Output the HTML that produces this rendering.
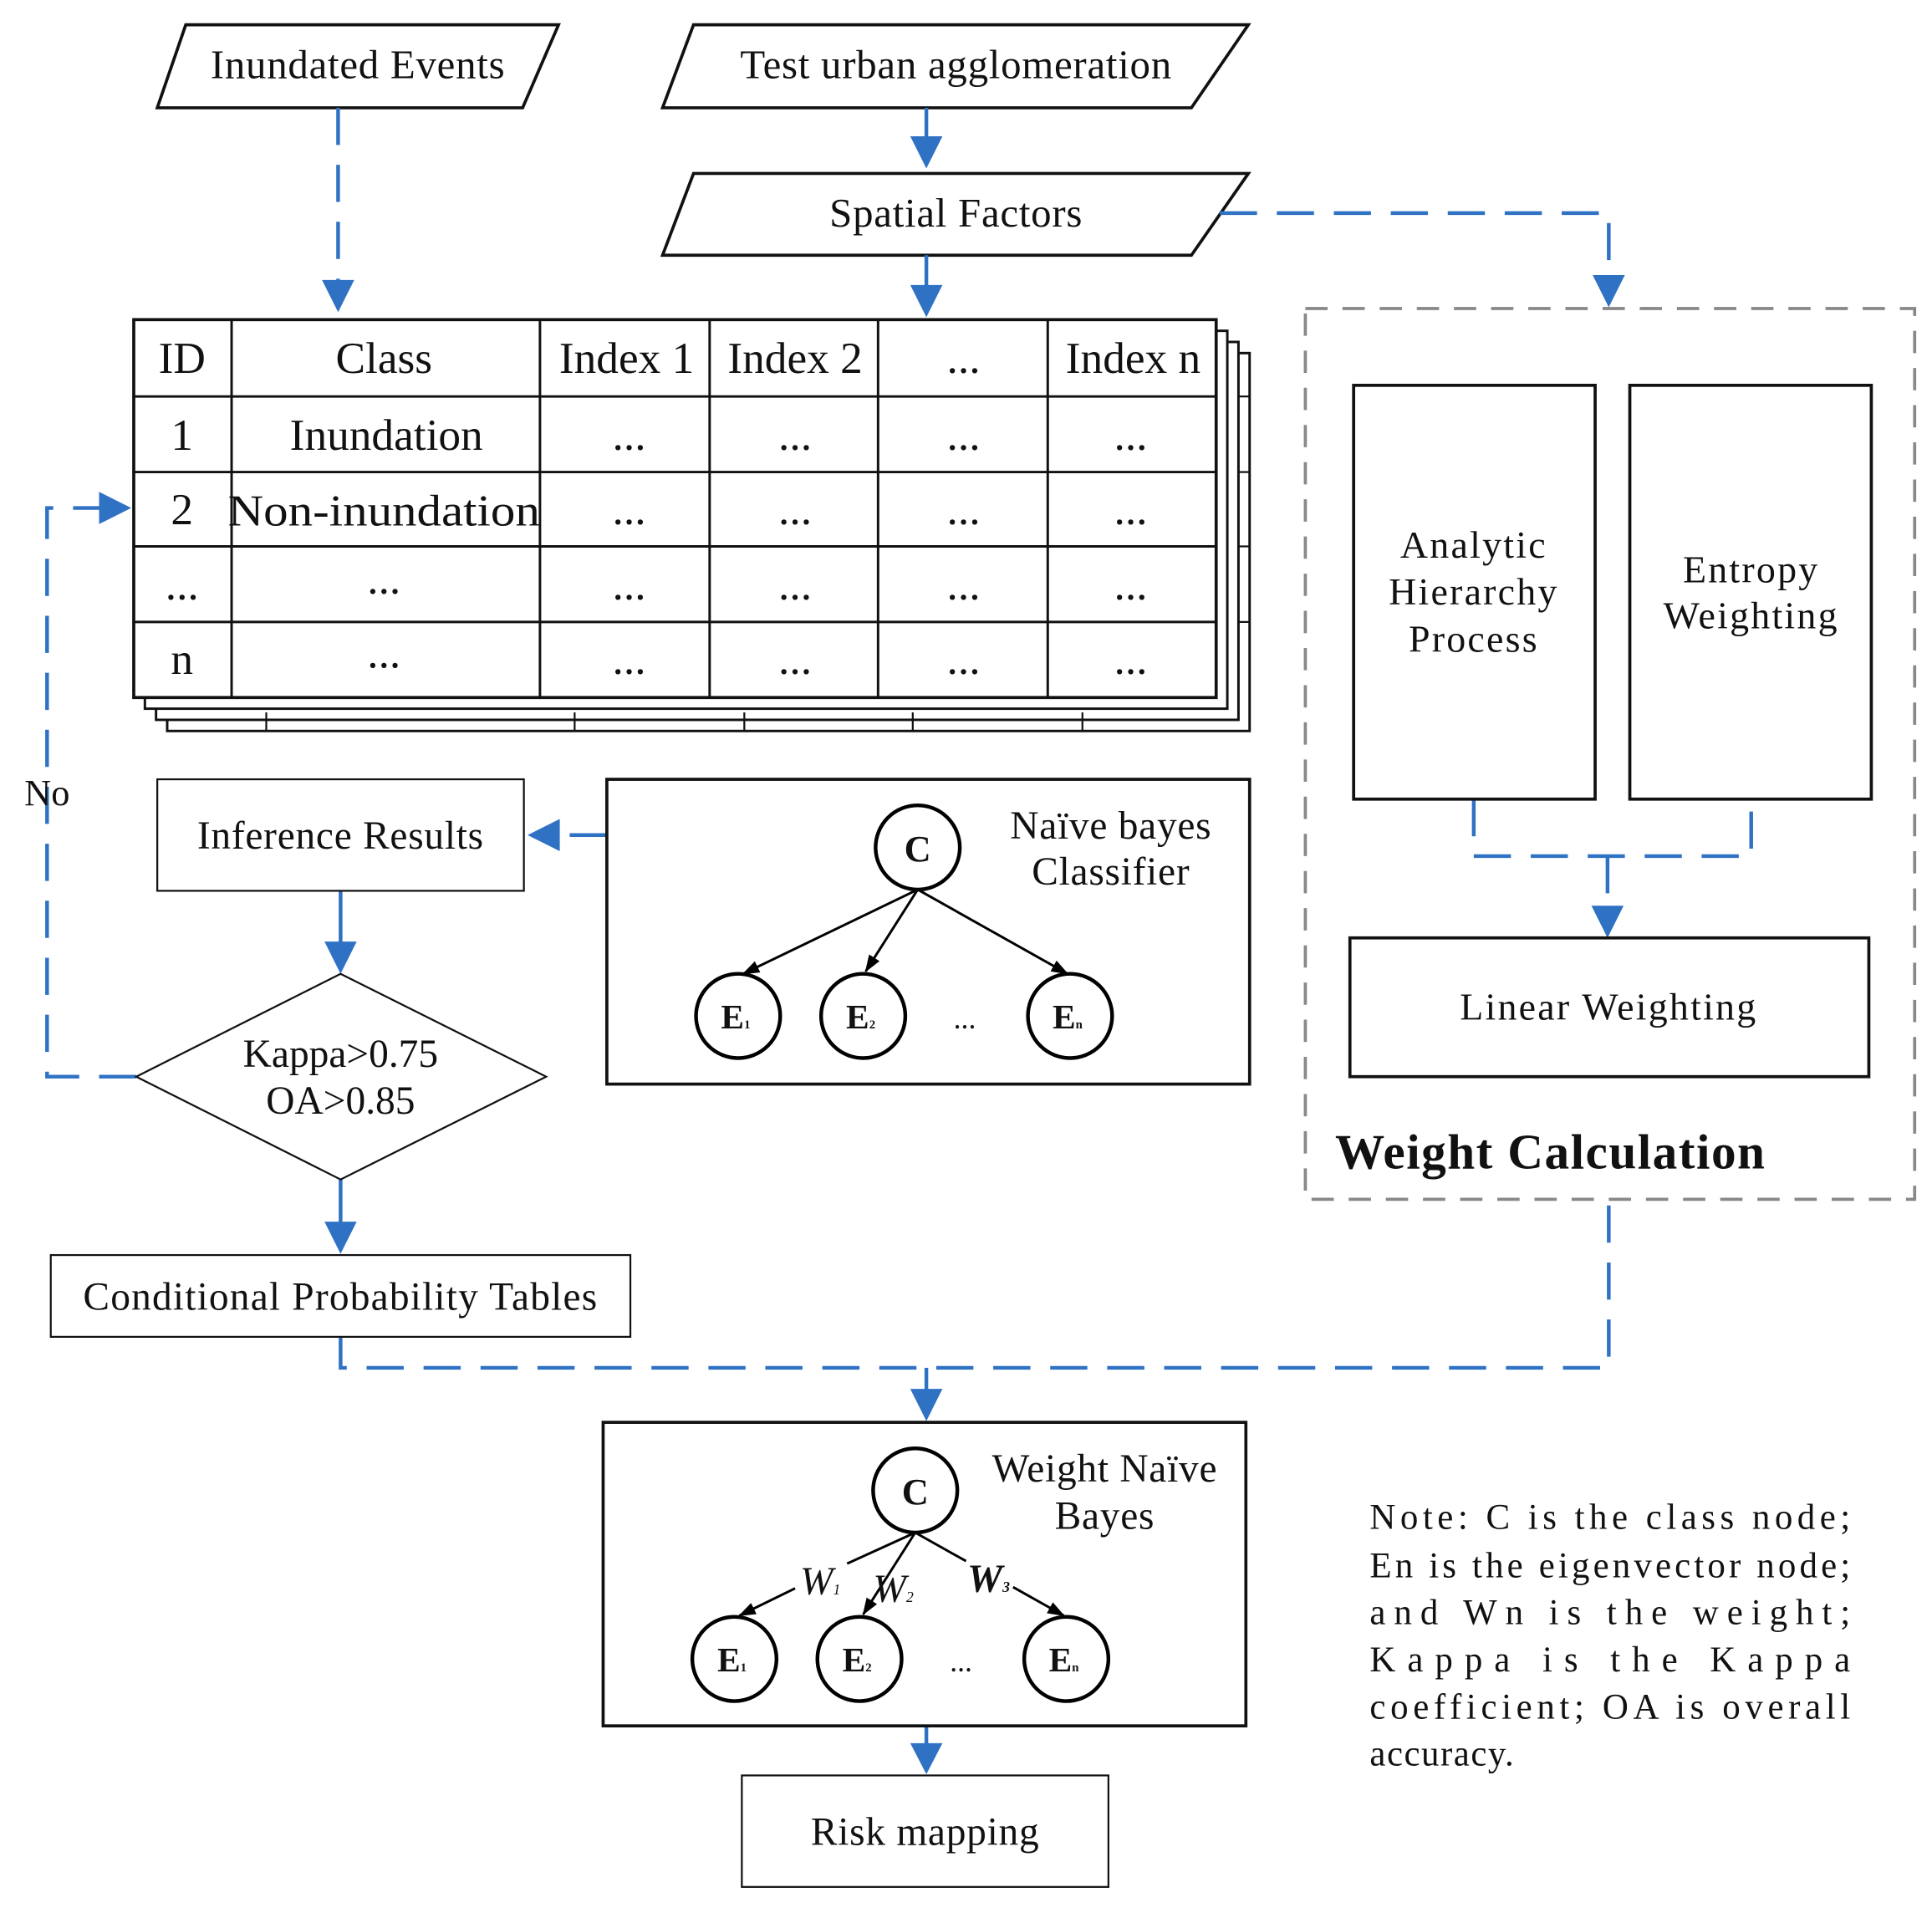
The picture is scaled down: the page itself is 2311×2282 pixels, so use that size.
<!DOCTYPE html>
<html><head><meta charset="utf-8"><style>
html,body{margin:0;padding:0;background:#fff;}
svg{display:block;}
text{font-family:"Liberation Serif",serif;fill:#111;}
</style></head><body>
<svg width="2311" height="2282" viewBox="0 0 1560 1540" preserveAspectRatio="none" xmlns="http://www.w3.org/2000/svg">
<defs>
<marker id="ka" markerWidth="14" markerHeight="14" refX="13" refY="7" orient="auto" markerUnits="userSpaceOnUse" viewBox="0 0 14 14"><path d="M0,2 L14,7 L0,12z" fill="#000"/></marker>
</defs>
<g fill="none" stroke="#111" stroke-width="2.5">
<polygon points="150,20 451,20 422,87 127,87"/>
<polygon points="560,20 1008,20 962,87 535,87"/>
<polygon points="560,140 1008,140 962,206 535,206"/>
</g>
<text x="289" y="63" font-size="33" text-anchor="middle" letter-spacing="0.5">Inundated Events</text>
<text x="772" y="63" font-size="33" text-anchor="middle" letter-spacing="0.5">Test urban agglomeration</text>
<text x="772" y="183" font-size="33" text-anchor="middle" letter-spacing="0.5">Spatial Factors</text>

<g stroke="#2f72c4" stroke-width="3" fill="none">
<line x1="748" y1="87" x2="748" y2="112"/>
<line x1="748" y1="206" x2="748" y2="232"/>
<line x1="275" y1="719" x2="275" y2="762"/>
<line x1="275" y1="952" x2="275" y2="988"/>
<line x1="748" y1="1393" x2="748" y2="1410"/>
<g stroke-dasharray="30,16">
<line x1="273" y1="87" x2="273" y2="228"/>
<polyline points="985,172 1299,172 1299,224"/>
<polyline points="110,869 38,869 38,410 80,410"/>
<line x1="490" y1="674" x2="458" y2="674"/>
<polyline points="275,1079 275,1104 1299,1104 1299,968"/>
<line x1="748" y1="1104" x2="748" y2="1122"/>
<polyline points="1190,645 1190,691 1414,691 1414,645"/>
<line x1="1298" y1="691" x2="1298" y2="732"/>
</g>
</g>
<g fill="#2f72c4">
<polygon points="735,110 761,110 748,136"/>
<polygon points="735,230 761,230 748,256"/>
<polygon points="260,226 286,226 273,252"/>
<polygon points="1286,222 1312,222 1299,248"/>
<polygon points="80,397 80,423 106,410"/>
<polygon points="452,661 452,687 426,674"/>
<polygon points="262,760 288,760 275,786"/>
<polygon points="262,986 288,986 275,1012"/>
<polygon points="735,1121 761,1121 748,1147"/>
<polygon points="1285,731 1311,731 1298,757"/>
<polygon points="735,1407 761,1407 748,1432"/>
</g>

<g fill="#fff" stroke="#111" stroke-width="2">
<rect x="135" y="285" width="874" height="305"/>
<rect x="126" y="276" width="874" height="305"/>
<rect x="117" y="267" width="874" height="305"/>
</g>
<g stroke="#111" stroke-width="1.5">
<line x1="215" y1="575" x2="215" y2="590"/><line x1="464" y1="575" x2="464" y2="590"/><line x1="601" y1="575" x2="601" y2="590"/><line x1="737" y1="575" x2="737" y2="590"/><line x1="874" y1="575" x2="874" y2="590"/>
<line x1="1000" y1="320" x2="1009" y2="320"/><line x1="1000" y1="381" x2="1009" y2="381"/><line x1="1000" y1="441" x2="1009" y2="441"/><line x1="1000" y1="502" x2="1009" y2="502"/>
</g>
<rect x="108" y="258" width="874" height="305" fill="#fff" stroke="#111" stroke-width="2.5"/>
<g stroke="#111" stroke-width="2">
<line x1="187" y1="258" x2="187" y2="563"/><line x1="436" y1="258" x2="436" y2="563"/><line x1="573" y1="258" x2="573" y2="563"/><line x1="709" y1="258" x2="709" y2="563"/><line x1="846" y1="258" x2="846" y2="563"/>
<line x1="108" y1="320" x2="982" y2="320"/><line x1="108" y1="381" x2="982" y2="381"/><line x1="108" y1="441" x2="982" y2="441"/><line x1="108" y1="502" x2="982" y2="502"/>
</g>
<g font-size="36" text-anchor="middle">
<text x="147" y="301">ID</text><text x="310" y="301">Class</text><text x="506" y="301">Index 1</text><text x="642" y="301">Index 2</text><text x="778" y="301">...</text><text x="915" y="301">Index n</text>
<text x="147" y="363">1</text><text x="312" y="363">Inundation</text><text x="508" y="363">...</text><text x="642" y="363">...</text><text x="778" y="363">...</text><text x="913" y="363">...</text>
<text x="147" y="423">2</text><text x="310" y="424" textLength="252" lengthAdjust="spacingAndGlyphs">Non-inundation</text><text x="508" y="423">...</text><text x="642" y="423">...</text><text x="778" y="423">...</text><text x="913" y="423">...</text>
<text x="147" y="484">...</text><text x="310" y="479">...</text><text x="508" y="484">...</text><text x="642" y="484">...</text><text x="778" y="484">...</text><text x="913" y="484">...</text>
<text x="147" y="544">n</text><text x="310" y="539">...</text><text x="508" y="544">...</text><text x="642" y="544">...</text><text x="778" y="544">...</text><text x="913" y="544">...</text>
</g>
<text x="38" y="650" font-size="30" text-anchor="middle">No</text>

<rect x="127" y="629" width="296" height="90" fill="none" stroke="#111" stroke-width="1.5"/>
<text x="275" y="685" font-size="32" text-anchor="middle" letter-spacing="0.5">Inference Results</text>
<polygon points="110,869 275,786 441,869 275,952" fill="none" stroke="#111" stroke-width="1.5"/>
<text x="275" y="861" font-size="32" text-anchor="middle">Kappa&gt;0.75</text>
<text x="275" y="899" font-size="32" text-anchor="middle">OA&gt;0.85</text>
<rect x="41" y="1013" width="468" height="66" fill="none" stroke="#111" stroke-width="1.5"/>
<text x="275" y="1057" font-size="32" text-anchor="middle" letter-spacing="0.8">Conditional Probability Tables</text>

<rect x="490" y="629" width="519" height="246" fill="none" stroke="#111" stroke-width="2.5"/>
<g stroke="#000" stroke-width="2" fill="none">
<line x1="741" y1="718" x2="600" y2="786" marker-end="url(#ka)"/>
<line x1="741" y1="718" x2="699" y2="784" marker-end="url(#ka)"/>
<line x1="741" y1="718" x2="862" y2="786" marker-end="url(#ka)"/>
<g stroke-width="3"><circle cx="741" cy="684" r="34"/><circle cx="596" cy="820" r="34"/><circle cx="697" cy="820" r="34"/><circle cx="864" cy="820" r="34"/></g>
</g>
<g font-weight="bold" text-anchor="middle">
<text x="741" y="695" font-size="30">C</text>
<text x="594" y="830" font-size="28">E<tspan font-size="10">1</tspan></text>
<text x="695" y="830" font-size="28">E<tspan font-size="10">2</tspan></text>
<text x="862" y="830" font-size="28">E<tspan font-size="10">n</tspan></text>
</g>
<text x="779" y="830" font-size="24" text-anchor="middle">...</text>
<text x="897" y="677" font-size="32" text-anchor="middle" letter-spacing="0.5">Naïve bayes</text>
<text x="897" y="714" font-size="32" text-anchor="middle" letter-spacing="0.5">Classifier</text>

<rect x="1054" y="249" width="492" height="719" fill="none" stroke="#888" stroke-width="2.5" stroke-dasharray="18,12"/>
<g fill="none" stroke="#111" stroke-width="2.5">
<rect x="1093" y="311" width="195" height="334"/>
<rect x="1316" y="311" width="195" height="334"/>
<rect x="1090" y="757" width="419" height="112"/>
</g>
<g font-size="31" text-anchor="middle" letter-spacing="1.5">
<text x="1190" y="450">Analytic</text><text x="1190" y="488">Hierarchy</text><text x="1190" y="526">Process</text>
<text x="1414" y="470">Entropy</text><text x="1414" y="507">Weighting</text>
<text x="1299" y="823">Linear Weighting</text>
</g>
<text x="1078" y="943" font-size="40" font-weight="bold" textLength="347" lengthAdjust="spacing">Weight Calculation</text>

<rect x="487" y="1148" width="519" height="245" fill="none" stroke="#111" stroke-width="2.5"/>
<g stroke="#000" stroke-width="2" fill="none">
<polyline points="739,1237 684,1262"/><line x1="642" y1="1282" x2="597" y2="1304" marker-end="url(#ka)"/>
<line x1="739" y1="1237" x2="697" y2="1303" marker-end="url(#ka)"/>
<line x1="739" y1="1237" x2="780" y2="1260"/><line x1="818" y1="1281" x2="859" y2="1304" marker-end="url(#ka)"/>
<g stroke-width="3"><circle cx="739" cy="1203" r="34"/><circle cx="593" cy="1339" r="34"/><circle cx="694" cy="1339" r="34"/><circle cx="861" cy="1339" r="34"/></g>
</g>
<g font-weight="bold" text-anchor="middle">
<text x="739" y="1214" font-size="30">C</text>
<text x="591" y="1349" font-size="28">E<tspan font-size="10">1</tspan></text>
<text x="692" y="1349" font-size="28">E<tspan font-size="10">2</tspan></text>
<text x="859" y="1349" font-size="28">E<tspan font-size="10">n</tspan></text>
</g>
<text x="776" y="1349" font-size="24" text-anchor="middle">...</text>
<g font-style="italic" font-size="32">
<text x="646" y="1287">W<tspan font-size="12">1</tspan></text>
<text x="705" y="1293">W<tspan font-size="12">2</tspan></text>
<text x="781" y="1285" font-weight="bold">W<tspan font-size="12">3</tspan></text>
</g>
<text x="892" y="1196" font-size="32" text-anchor="middle" letter-spacing="0.5">Weight Naïve</text>
<text x="892" y="1234" font-size="32" text-anchor="middle" letter-spacing="0.5">Bayes</text>

<rect x="599" y="1433" width="296" height="90" fill="none" stroke="#111" stroke-width="1.5"/>
<text x="747" y="1489" font-size="32" text-anchor="middle" letter-spacing="0.5">Risk mapping</text>

<g font-size="29">
<text x="1106" y="1234" textLength="388" lengthAdjust="spacing">Note:  C is the class node;</text>
<text x="1106" y="1273" textLength="388" lengthAdjust="spacing">En is the eigenvector node;</text>
<text x="1106" y="1311" textLength="388" lengthAdjust="spacing">and Wn is the weight;</text>
<text x="1106" y="1349" textLength="388" lengthAdjust="spacing">Kappa is the Kappa</text>
<text x="1106" y="1387" textLength="388" lengthAdjust="spacing">coefficient; OA is overall</text>
<text x="1106" y="1425" letter-spacing="1">accuracy.</text>
</g>
</svg>
</body></html>
